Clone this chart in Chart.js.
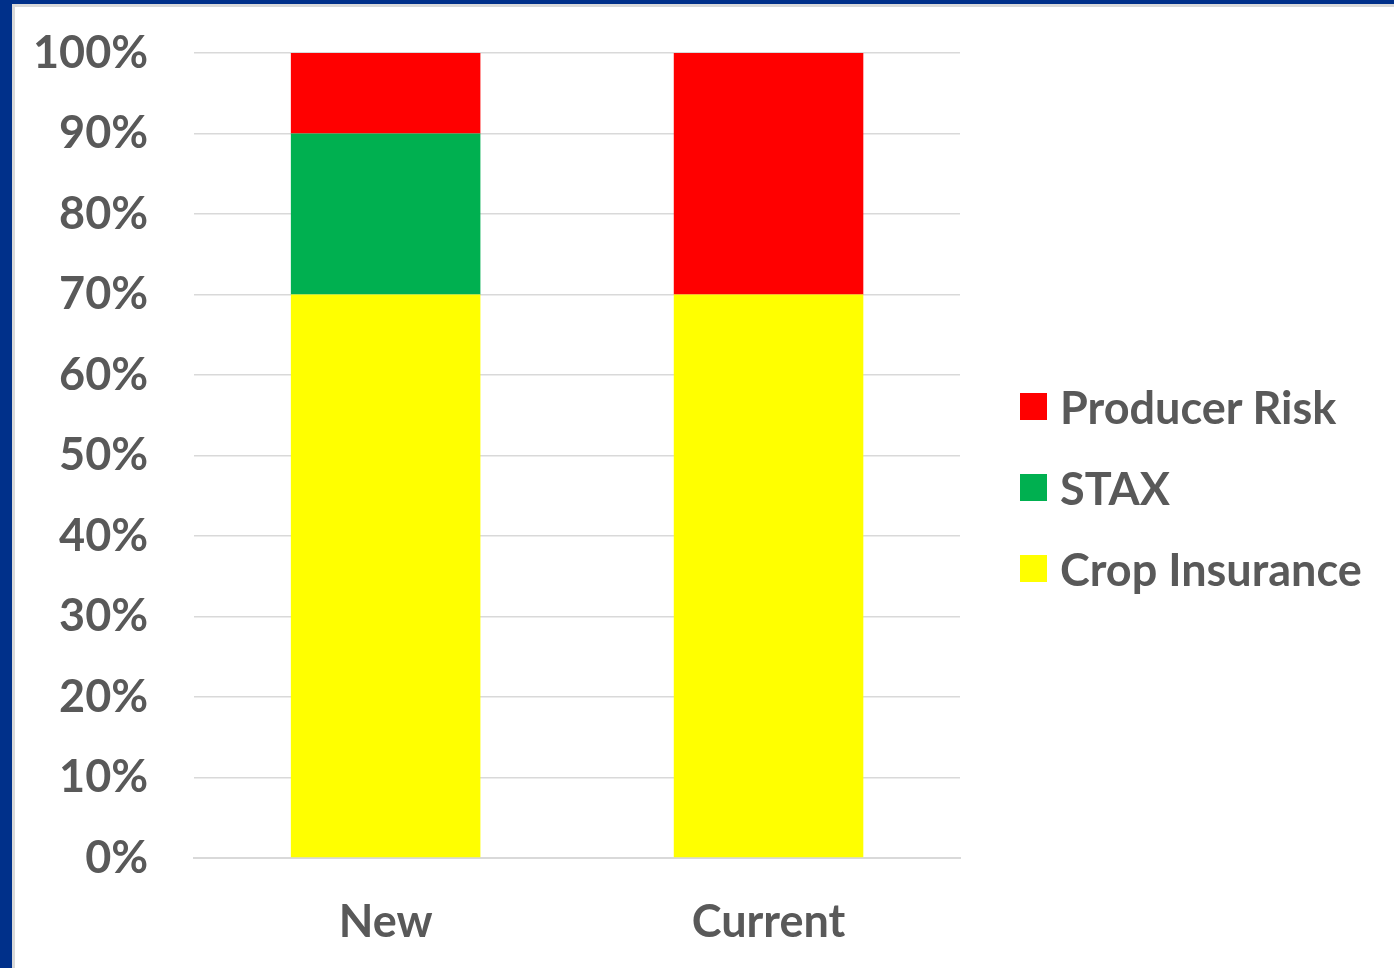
<!DOCTYPE html>
<html>
<head>
<meta charset="utf-8">
<script src="https://cdn.jsdelivr.net/npm/chart.js@4/dist/chart.umd.min.js"></script>
<style>
  html, body { margin: 0; padding: 0; }
  body { width: 1394px; height: 968px; background: #00308a; position: relative; overflow: hidden; }
  #frame { position: absolute; left: 12px; top: 4px; width: 1382px; height: 964px; background: #d9d9d9; }
  #panel { position: absolute; left: 3px; top: 3px; width: 1379px; height: 961px; background: #ffffff; }
  #chartBox { position: absolute; left: 0; top: 0; width: 1379px; height: 961px; }
  #legendBox { position: absolute; left: 1005px; top: 359px; font-family: Lato, 'Open Sans', sans-serif;
               font-weight: bold; font-size: 45px; color: #595959; }
  .legend-row { height: 81px; display: flex; align-items: center; white-space: nowrap; }
  .legend-swatch { width: 27px; height: 27px; margin-right: 13px; flex: none; }
</style>
</head>
<body>
<div id="frame"><div id="panel">
  <div id="chartBox"><canvas id="graphOutputCanvas"></canvas></div>
  <div id="legendBox"></div>
</div></div>
<script>
// categories and series (percent of total)
var categories = ["New", "Current"];
var cropInsurance = [70, 70];
var stax = [20, 0];
var producerRisk = [10, 30];
var yTicks = [0, 10, 20, 30, 40, 50, 60, 70, 80, 90, 100];

var textGray = "#595959";
var fontFamily = "Lato, 'Open Sans', sans-serif";

var currentChart = new Chart(document.getElementById("graphOutputCanvas"), {
    type: "bar",
    data: {
        labels: categories,
        datasets: [
            { label: "Crop Insurance", data: cropInsurance, backgroundColor: "#ffff00" },
            { label: "STAX", data: stax, backgroundColor: "#00b050" },
            { label: "Producer Risk", data: producerRisk, backgroundColor: "#ff0000" }
        ]
    },
    options: {
        responsive: true,
        maintainAspectRatio: false,
        animation: false,
        datasets: { bar: { categoryPercentage: 0.5, barPercentage: 0.99 } },
        layout: { padding: { left: 18, top: 46, right: 434, bottom: 19 } },
        plugins: {
            tooltip: { enabled: false },
            legend: { display: false }
        },
        scales: {
            x: {
                stacked: true,
                grid: { display: false, drawTicks: true, tickLength: 37 },
                border: { display: true, color: "#d9d9d9", width: 2 },
                ticks: {
                    padding: 0,
                    color: textGray,
                    font: { family: fontFamily, size: 45, weight: "bold" }
                }
            },
            y: {
                stacked: true,
                min: 0,
                max: 100,
                afterBuildTicks: function(axis){
                    axis.ticks = yTicks.map(function(v){ return { value: v }; });
                },
                grid: { color: "#d9d9d9", lineWidth: 1.5, drawTicks: true, tickLength: 46, tickColor: "rgba(0,0,0,0)" },
                border: { display: false },
                ticks: {
                    padding: 0,
                    color: textGray,
                    font: { family: fontFamily, size: 45, weight: "bold" },
                    callback: function(v){ return v + "%"; }
                }
            }
        }
    }
});

//legend built from the chart's datasets, top series first
function buildLegend(){
    let box = document.getElementById("legendBox");
    let sets = currentChart.data.datasets.slice().reverse();
    for(let i = 0; i < sets.length; i++){
        let row = document.createElement("div");
        row.className = "legend-row";
        let swatch = document.createElement("span");
        swatch.className = "legend-swatch";
        swatch.style.background = sets[i].backgroundColor;
        let label = document.createElement("span");
        label.textContent = sets[i].label;
        row.appendChild(swatch);
        row.appendChild(label);
        box.appendChild(row);
    }
}
buildLegend();
</script>
</body>
</html>
